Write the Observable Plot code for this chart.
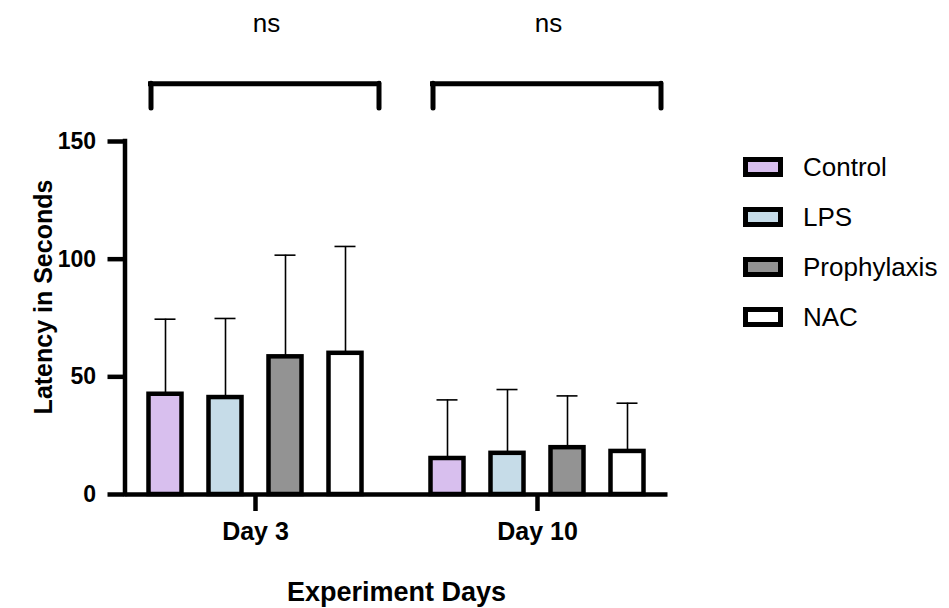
<!DOCTYPE html>
<html>
<head>
<meta charset="utf-8">
<script src="https://cdn.jsdelivr.net/npm/d3@7"></script>
<script src="https://cdn.jsdelivr.net/npm/@observablehq/plot@0.6"></script>
<style>
html, body { margin: 0; padding: 0; background: #fff; }
#wrap { position: relative; width: 949px; height: 608px; font-family: "Liberation Sans", Arial, sans-serif; }
#legend { position: absolute; left: 743px; top: 142px; }
.row { display: flex; align-items: center; height: 50px; }
.sw { box-sizing: border-box; width: 40px; height: 20px; border: 5.5px solid #000; margin-right: 20px; }
.lab { font-size: 26px; line-height: 26px; color: #000; white-space: nowrap; }
</style>
</head>
<body>
<div id="wrap"></div>
<script>
// ---- data ----
const days = ["Day 3", "Day 10"];
const groups = ["Control", "LPS", "Prophylaxis", "NAC"];
const colors = ["#d8bfee", "#c6dce8", "#939393", "#ffffff"];
const meanDay3 = [42.6, 41.2, 58.5, 60.0];
const sdDay3 = [31.9, 33.6, 43.2, 45.4];
const meanDay10 = [15.3, 17.5, 19.9, 18.3];
const sdDay10 = [24.9, 27.1, 22.0, 20.5];
const yTicks = [0, 50, 100, 150];
const sigLabels = ["ns", "ns"];
const bracketTop = [174.5, 174.5];
const bracketLeg = [164, 164];
const sigTextY = [200, 200];
const yTitle = "Latency in Seconds";
const xTitle = "Experiment Days";

const rows = [];
days.forEach((day, di) => groups.forEach((group, gi) => {
  const mean = di === 0 ? meanDay3[gi] : meanDay10[gi];
  const sd = di === 0 ? sdDay3[gi] : sdDay10[gi];
  rows.push({day, group, mean, upper: mean + sd});
}));
const comps = days.map((day, i) => ({day, label: sigLabels[i], top: bracketTop[i], leg: bracketLeg[i], ty: sigTextY[i]}));
const axisFrame = [{day: days[0], lo: yTicks[0], hi: yTicks[yTicks.length - 1], title: yTitle}];
const baseline = days.map(day => ({day, v: 0}));

// ---- layout ----
const W = 949, H = 608, mL = 113.5, mR = 271.5, mT = 141, mB = 114;
const facetW = (W - mL - mR) / days.length;
const xPi = 0.4417, xPo = 0.5708;
const xStep = facetW / (groups.length - xPi + 2 * xPo);
const bw = xStep * (1 - xPi);
const ctrlCenter = xStep * xPo + bw / 2;
const shift = 10.5;
const capW = 21.5;
const black = "#000";

const chart = Plot.plot({
  width: W, height: H,
  marginLeft: mL, marginRight: mR, marginTop: mT, marginBottom: mB,
  style: {fontFamily: "Liberation Sans, Arial, sans-serif", color: "#000", background: "transparent", overflow: "visible"},
  fx: {domain: days, paddingInner: 0, paddingOuter: 0},
  x: {domain: groups, paddingInner: xPi, paddingOuter: xPo, axis: null},
  y: {domain: [0, 150]},
  color: {domain: groups, range: colors},
  marks: [
    // x baseline (per facet, joined)
    Plot.ruleY(baseline.filter(d => d.day === days[0]), {fx: "day", y: "v", insetLeft: shift, stroke: black, strokeWidth: 4.5}),
    Plot.ruleY(baseline.filter(d => d.day === days[1]), {fx: "day", y: "v", insetRight: shift, stroke: black, strokeWidth: 4.5}),
    // error bars
    Plot.ruleX(rows, {fx: "day", x: "group", y1: "mean", y2: "upper", stroke: black, strokeWidth: 1.6}),
    Plot.tickY(rows, {fx: "day", x: "group", y: "upper", stroke: black, strokeWidth: 1.6, insetLeft: (bw - capW) / 2, insetRight: (bw - capW) / 2}),
    // bars
    Plot.barY(rows, {fx: "day", x: "group", y: "mean", fill: "group", stroke: black, strokeWidth: 4.5}),
    // y axis line
    Plot.ruleX(axisFrame, {fx: "day", x: () => groups[0], y1: "lo", y2: "hi", dx: shift - ctrlCenter, stroke: black, strokeWidth: 4.5, strokeLinecap: "square"}),
    // significance brackets
    Plot.ruleY(comps, {fx: "day", y: "top", insetLeft: 36.5, insetRight: 17.5, stroke: black, strokeWidth: 5, strokeLinecap: "square"}),
    Plot.ruleX(comps, {fx: "day", x: () => groups[0], y1: "leg", y2: "top", dx: -14.5, stroke: black, strokeWidth: 5, strokeLinecap: "round"}),
    Plot.ruleX(comps, {fx: "day", x: () => groups[groups.length - 1], y1: "leg", y2: "top", dx: 33.5, stroke: black, strokeWidth: 5, strokeLinecap: "round"}),
    Plot.text(comps, {fx: "day", text: "label", y: "ty", dx: 11, fontSize: 26, lineAnchor: "middle", fill: black}),
    // axes (ticks)
    Plot.axisY({ticks: yTicks, tickSize: 17, tickPadding: 12, fontSize: 23, fontWeight: "bold", strokeWidth: 4.5, dx: shift, label: null}),
    Plot.axisFx({anchor: "bottom", tickSize: 17, tickPadding: 10.5, fontSize: 25, fontWeight: "bold", strokeWidth: 4.5, label: null}),
    // axis titles
    Plot.text(axisFrame, {fx: "day", text: "title", frameAnchor: "left", rotate: -90, lineAnchor: "middle", textAnchor: "middle",
      dx: -71, dy: -21, fontSize: 25, fontWeight: "bold", fill: black}),
    Plot.axisFx({anchor: "bottom", ticks: [], tickSize: 0, fontSize: 27, fontWeight: "bold",
      label: xTitle, labelAnchor: "center", labelOffset: 106, labelArrow: "none"})
  ]
});

const wrap = document.getElementById("wrap");
wrap.appendChild(chart);

// legend
const legend = document.createElement("div");
legend.id = "legend";
groups.forEach((g, i) => {
  const row = document.createElement("div");
  row.className = "row";
  const sw = document.createElement("div");
  sw.className = "sw";
  sw.style.background = colors[i];
  const lab = document.createElement("span");
  lab.className = "lab";
  lab.textContent = g;
  row.appendChild(sw);
  row.appendChild(lab);
  legend.appendChild(row);
});
wrap.appendChild(legend);
</script>
</body>
</html>
